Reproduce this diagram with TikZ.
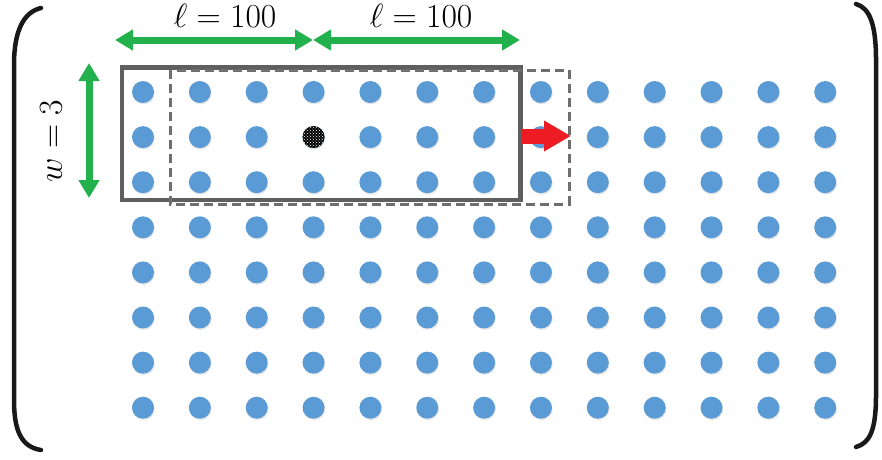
\documentclass[tikz,border=0pt]{standalone}
\usepackage{amsmath}
\usetikzlibrary{arrows.meta,patterns,shadows}
\definecolor{dotblue}{RGB}{91,155,213}
\definecolor{arrowgreen}{RGB}{34,177,76}
\definecolor{arrowred}{RGB}{237,28,36}
\definecolor{boxgray}{RGB}{95,95,95}

\begin{document}
\begin{tikzpicture}[x=1pt, y=-1pt,
    dot/.style={circle, fill=dotblue, inner sep=0pt, minimum size=22pt,
        drop shadow={opacity=0.18, shadow xshift=0.8pt, shadow yshift=-1.5pt}},
    centerdot/.style={circle, fill=black, inner sep=0pt, minimum size=22pt,
        postaction={pattern=crosshatch dots, pattern color=white}},
    lbl/.style={font=\Huge, scale=1.35},
    greenarrow/.style={line width=7pt, arrowgreen,
        {Triangle[width=20pt,length=18pt]}-{Triangle[width=20pt,length=18pt]}},
    paren/.style={line width=4.5pt, line cap=round, black!90}]
    \useasboundingbox (0,0) rectangle (882,459);

    % the matrix of sites
    \foreach \c in {0,...,12}
        \foreach \r in {0,...,7}
            \node[dot] (d-\c-\r) at ({143+56.85*\c},{92+45.1*\r}) {};
    \node[centerdot] (mid) at (d-3-1) {};

    % brackets
    \draw[paren] (41,8) .. controls (24,12) and (14,30) .. (14,65) -- (14,400)
        .. controls (14,432) and (22,447) .. (41,450);
    \draw[paren] (856,4) .. controls (870,8) and (876,25) .. (876,60) -- (876,395)
        .. controls (876,430) and (870,443) .. (856,447);

    % windows
    \draw[line width=4.5pt, boxgray] (122,67.5) rectangle (520.5,200);
    \draw[line width=3pt, boxgray!90, dash pattern=on 9pt off 5pt] (170,70) rectangle (569,204);

    % sizes
    \coordinate (l0) at (115,40);
    \coordinate (l1) at (313,40);
    \coordinate (l2) at (520,40);
    \coordinate (w0) at (89,63);
    \coordinate (w1) at (89,198);
    \draw[greenarrow] (l0) -- (l1);
    \draw[greenarrow] (l1) -- (l2);
    \draw[greenarrow] (w0) -- (w1);
    \node[lbl] (len1) at (225,16) {$\ell = 100$};
    \node[lbl] (len2) at (421,16) {$\ell = 100$};
    \node[lbl, rotate=90] (wid) at (51,141) {$w = 3$};

    % shift
    \coordinate (s0) at (522,136);
    \coordinate (s1) at (571,136);
    \draw[line width=15pt, arrowred, -{Triangle[width=29pt,length=27pt]}] (s0) -- (s1);
\end{tikzpicture}
\end{document}
